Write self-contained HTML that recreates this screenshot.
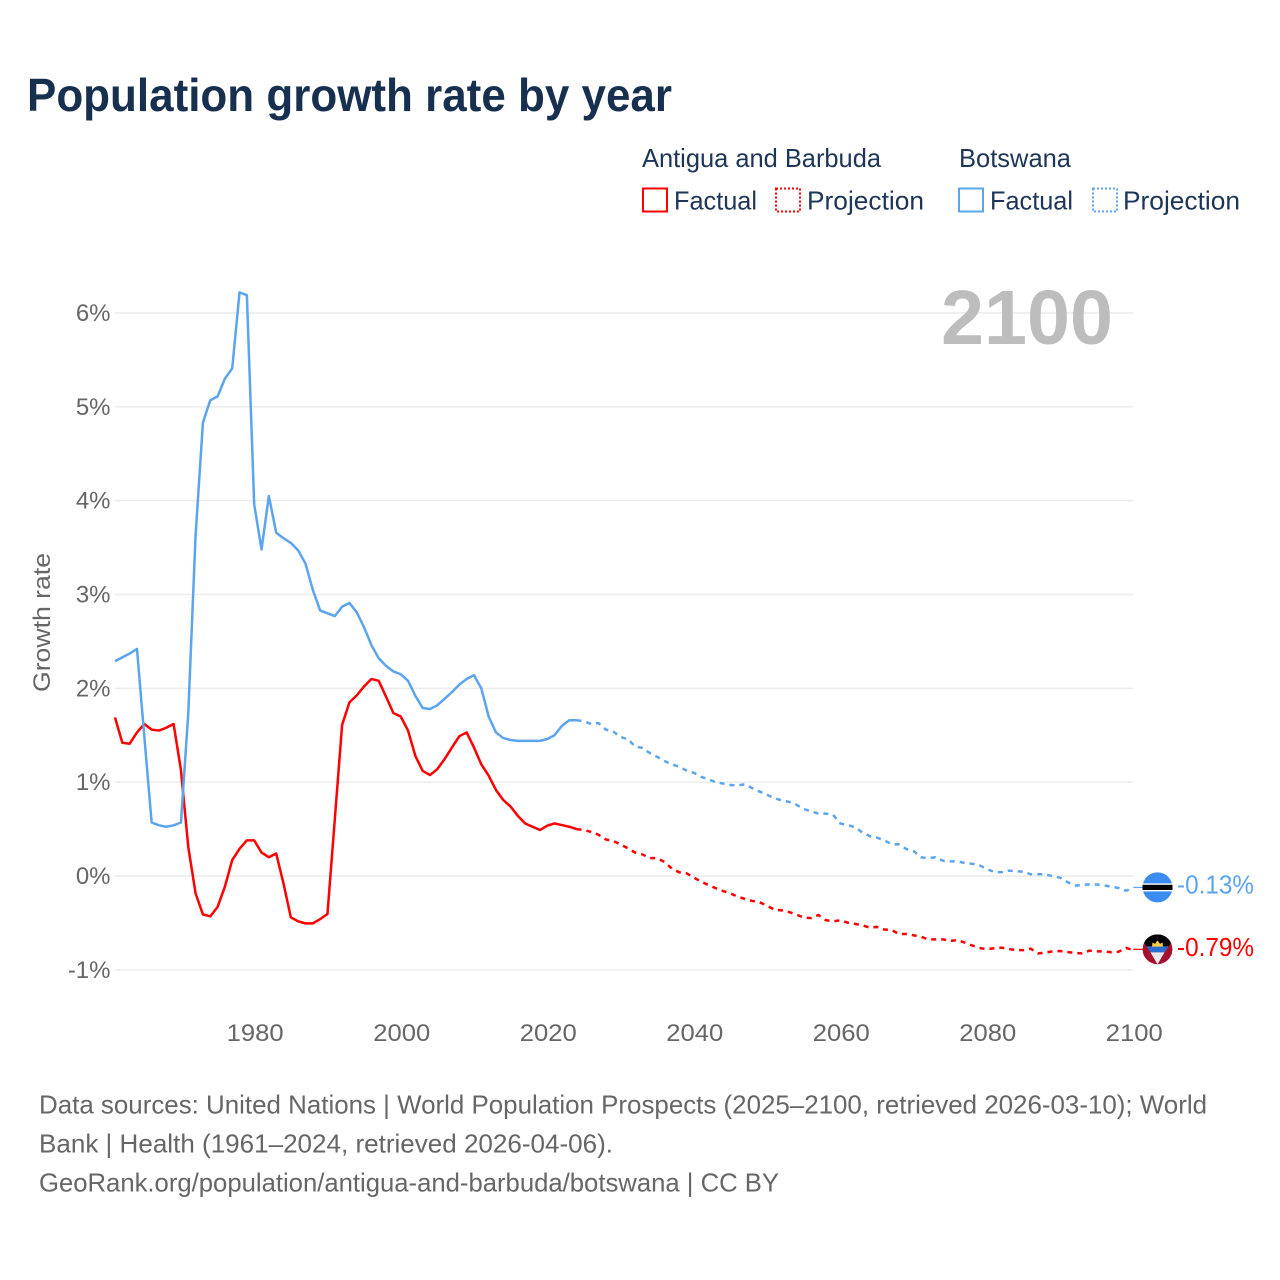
<!DOCTYPE html>
<html lang="en">
<head>
<meta charset="utf-8">
<title>Population growth rate by year</title>
<style>
html,body{margin:0;padding:0;background:#fff;}
svg{display:block;font-family:"Liberation Sans",Arial,sans-serif;}
</style>
</head>
<body>
<svg id="chart" width="1280" height="1280" viewBox="0 0 1280 1280" xmlns="http://www.w3.org/2000/svg">
  <rect x="0" y="0" width="1280" height="1280" fill="#ffffff"/>
  <text x="27" y="111" font-size="46" font-weight="700" fill="#18304f" textLength="645" lengthAdjust="spacingAndGlyphs">Population growth rate by year</text>

  <g font-size="26" fill="#1d3557">
    <text x="642" y="167" textLength="239" lengthAdjust="spacingAndGlyphs">Antigua and Barbuda</text>
    <text x="959" y="167" textLength="112" lengthAdjust="spacingAndGlyphs">Botswana</text>
    <rect x="643" y="188.5" width="24" height="23" fill="none" stroke="#ff0000" stroke-width="2"/>
    <text x="674" y="209.5" textLength="83" lengthAdjust="spacingAndGlyphs">Factual</text>
    <rect x="776" y="188.5" width="24" height="23" fill="none" stroke="#ff0000" stroke-width="2" stroke-dasharray="2 2"/>
    <text x="807" y="209.5" textLength="117" lengthAdjust="spacingAndGlyphs">Projection</text>
    <rect x="959" y="188.5" width="24" height="23" fill="none" stroke="#5ba4ee" stroke-width="2"/>
    <text x="990" y="209.5" textLength="83" lengthAdjust="spacingAndGlyphs">Factual</text>
    <rect x="1093" y="188.5" width="24" height="23" fill="none" stroke="#5ba4ee" stroke-width="2" stroke-dasharray="2 2"/>
    <text x="1123" y="209.5" textLength="117" lengthAdjust="spacingAndGlyphs">Projection</text>
  </g>

  <g id="grid"></g>
  <g id="yticks"></g>
  <g id="xticks"></g>

  <text transform="translate(50 692) rotate(-90)" font-size="24" fill="#666666" textLength="139" lengthAdjust="spacingAndGlyphs">Growth rate</text>
  <text x="941" y="344" font-size="77" font-weight="700" fill="#bdbdbd" textLength="172" lengthAdjust="spacingAndGlyphs">2100</text>

  <g id="series"></g>
  <g id="endmarks"></g>

  <g font-size="26" fill="#666666">
    <text x="39" y="1113.5" textLength="1168" lengthAdjust="spacingAndGlyphs">Data sources: United Nations | World Population Prospects (2025–2100, retrieved 2026-03-10); World</text>
    <text x="39" y="1152.5" textLength="574" lengthAdjust="spacingAndGlyphs">Bank | Health (1961–2024, retrieved 2026-04-06).</text>
    <text x="39" y="1191.5" textLength="740" lengthAdjust="spacingAndGlyphs">GeoRank.org/population/antigua-and-barbuda/botswana | CC BY</text>
  </g>
</svg>

<script>
// Chart data: growth rate in % per year
const factualStartYear = 1961;
const projectionStartYear = 2024;

const antiguaFactual = [1.69,1.42,1.41,1.53,1.62,1.56,1.55,1.58,1.62,1.13,0.31,-0.185,-0.41,-0.43,-0.33,-0.114,0.17,0.29,0.38,0.38,0.25,0.2,0.24,-0.08,-0.44,-0.483,-0.505,-0.505,-0.46,-0.405,0.6,1.61,1.85,1.925,2.02,2.10,2.08,1.91,1.737,1.70,1.55,1.28,1.12,1.076,1.14,1.247,1.37,1.49,1.53,1.37,1.19,1.07,0.917,0.81,0.74,0.64,0.56,0.525,0.49,0.536,0.56,0.543,0.525,0.5];

const antiguaProjection = [0.5,0.49,0.47,0.44,0.39,0.373,0.337,0.295,0.25,0.23,0.19,0.19,0.15,0.08,0.04,0.03,-0.016,-0.06,-0.096,-0.13,-0.16,-0.185,-0.22,-0.245,-0.266,-0.28,-0.316,-0.36,-0.366,-0.384,-0.41,-0.444,-0.448,-0.416,-0.47,-0.483,-0.473,-0.497,-0.51,-0.525,-0.55,-0.543,-0.57,-0.575,-0.618,-0.618,-0.632,-0.647,-0.675,-0.675,-0.675,-0.693,-0.682,-0.71,-0.74,-0.767,-0.78,-0.77,-0.764,-0.778,-0.79,-0.79,-0.775,-0.825,-0.817,-0.803,-0.8,-0.81,-0.82,-0.825,-0.796,-0.803,-0.803,-0.813,-0.807,-0.767,-0.79];

const botswanaFactual = [2.29,2.33,2.37,2.42,1.49,0.57,0.54,0.525,0.54,0.57,1.73,3.63,4.83,5.07,5.11,5.30,5.41,6.22,6.19,3.96,3.48,4.05,3.66,3.60,3.55,3.47,3.33,3.05,2.83,2.80,2.77,2.87,2.91,2.81,2.65,2.46,2.32,2.24,2.18,2.15,2.08,1.92,1.79,1.78,1.82,1.89,1.96,2.04,2.10,2.14,2.00,1.70,1.53,1.47,1.45,1.44,1.44,1.44,1.44,1.46,1.50,1.60,1.66,1.66];

const botswanaProjection = [1.66,1.65,1.62,1.63,1.56,1.54,1.48,1.46,1.38,1.365,1.31,1.27,1.225,1.19,1.165,1.125,1.10,1.057,1.03,1.0,0.985,0.97,0.966,0.977,0.935,0.90,0.866,0.83,0.806,0.79,0.76,0.714,0.69,0.665,0.665,0.653,0.56,0.543,0.52,0.465,0.426,0.41,0.38,0.34,0.337,0.288,0.267,0.2,0.188,0.2,0.163,0.156,0.156,0.139,0.13,0.114,0.074,0.043,0.04,0.057,0.05,0.046,0.018,0.018,0.018,-0.003,-0.018,-0.064,-0.103,-0.096,-0.09,-0.09,-0.1,-0.114,-0.128,-0.157,-0.13];

const xTickYears = [1980,2000,2020,2040,2060,2080,2100];
const yTickValues = [-1,0,1,2,3,4,5,6];

const SVG_NS = 'http://www.w3.org/2000/svg';
const RED = '#ff0000';
const BLUE = '#5ba4ee';

function xScale(year){ return 115 + (year - 1961) * (1133.3 - 115) / 139; }
function yScale(v){ return 876 - v * 93.83; }

function mk(tag, parent, attrs){
  const el = document.createElementNS(SVG_NS, tag);
  for (const k in attrs) el.setAttribute(k, attrs[k]);
  parent.appendChild(el);
  return el;
}

const grid = document.getElementById('grid');
const yticks = document.getElementById('yticks');
const xticks = document.getElementById('xticks');
const series = document.getElementById('series');
const endmarks = document.getElementById('endmarks');

yTickValues.forEach(function(v){
  const y = yScale(v);
  const line = mk('line', grid, {x1:115, x2:1133, y1:y, y2:y, stroke:'#ececec', 'stroke-width':1.5});
  
  
  const t = mk('text', yticks, {x:110.5, y:y + 8, 'font-size':24, fill:'#666666', 'text-anchor':'end'});
  t.textContent = v + '%';
  
  
});

xTickYears.forEach(function(yr){
  const t = mk('text', xticks, {x:xScale(yr) + 1, y:1041, 'font-size':24.5, fill:'#666666', 'text-anchor':'middle', textLength:57, lengthAdjust:'spacingAndGlyphs'});
  t.textContent = String(yr);
  
  
});

function linePoints(values, startYear){
  return values.map(function(v, i){
    return xScale(startYear + i).toFixed(2) + ',' + yScale(v).toFixed(2);
  }).join(' ');
}

const antiguaFactualLine = mk('polyline', series, {points:linePoints(antiguaFactual, factualStartYear), fill:'none', stroke:RED, 'stroke-width':2.5, 'stroke-linejoin':'round'});



const antiguaProjectionLine = mk('polyline', series, {points:linePoints(antiguaProjection, projectionStartYear), fill:'none', stroke:RED, 'stroke-width':2.5, 'stroke-dasharray':'5 5'});



const botswanaFactualLine = mk('polyline', series, {points:linePoints(botswanaFactual, factualStartYear), fill:'none', stroke:BLUE, 'stroke-width':2.5, 'stroke-linejoin':'round'});



const botswanaProjectionLine = mk('polyline', series, {points:linePoints(botswanaProjection, projectionStartYear), fill:'none', stroke:BLUE, 'stroke-width':2.5, 'stroke-dasharray':'5 5'});



// End-of-line markers: connector, flag, printed value
const botswanaLast = botswanaProjection[botswanaProjection.length - 1];
const antiguaLast = antiguaProjection[antiguaProjection.length - 1];
const endX = xScale(2100);
const flagX = 1157.5;
const botY = yScale(botswanaLast) - 0.8;
const antY = yScale(antiguaLast) - 0.8;

const botConnector = mk('line', endmarks, {x1:endX, x2:flagX - 15, y1:botY, y2:botY, stroke:BLUE, 'stroke-width':1.2});


const antConnector = mk('line', endmarks, {x1:endX, x2:flagX - 15, y1:antY, y2:antY, stroke:RED, 'stroke-width':1.2});



// Botswana flag
const botFlag = mk('g', endmarks, {transform:'translate(' + flagX + ' ' + botY + ')'});


mk('circle', botFlag, {cx:0, cy:0, r:15, fill:'#3b8cf0'});
mk('rect', botFlag, {x:-15, y:-4, width:30, height:8, fill:'#ffffff'});
mk('rect', botFlag, {x:-15, y:-2.6, width:30, height:5.2, fill:'#000000'});

// Antigua and Barbuda flag
const clipDef = mk('clipPath', endmarks, {id:'antiguaClip'});
mk('circle', clipDef, {cx:0, cy:0, r:15});
const antFlag = mk('g', endmarks, {transform:'translate(' + flagX + ' ' + antY + ')', 'clip-path':'url(#antiguaClip)'});


mk('circle', antFlag, {cx:0, cy:0, r:15, fill:'#a5102e'});
mk('polygon', antFlag, {points:'-15,-15 15,-15 15,-9 11,-3 -11,-3 -15,-9', fill:'#000000'});
mk('polygon', antFlag, {points:'-11,-3 11,-3 7,3 -7,3', fill:'#2a6fd0'});
mk('polygon', antFlag, {points:'-7,3 7,3 0,15', fill:'#e8e8ee'});
mk('polygon', antFlag, {points:'-5.5,-2.7 5.5,-2.7 5,-7 2.5,-5.5 0,-9 -2.5,-5.5 -5,-7', fill:'#f6cf45'});

const botValue = mk('text', endmarks, {x:1177, y:botY + 6, 'font-size':26, fill:BLUE, textLength:77, lengthAdjust:'spacingAndGlyphs'});
botValue.textContent = botswanaLast.toFixed(2) + '%';



const antValue = mk('text', endmarks, {x:1177, y:antY + 6.5, 'font-size':26, fill:RED, textLength:77, lengthAdjust:'spacingAndGlyphs'});
antValue.textContent = antiguaLast.toFixed(2) + '%';


</script>
</body>
</html>
